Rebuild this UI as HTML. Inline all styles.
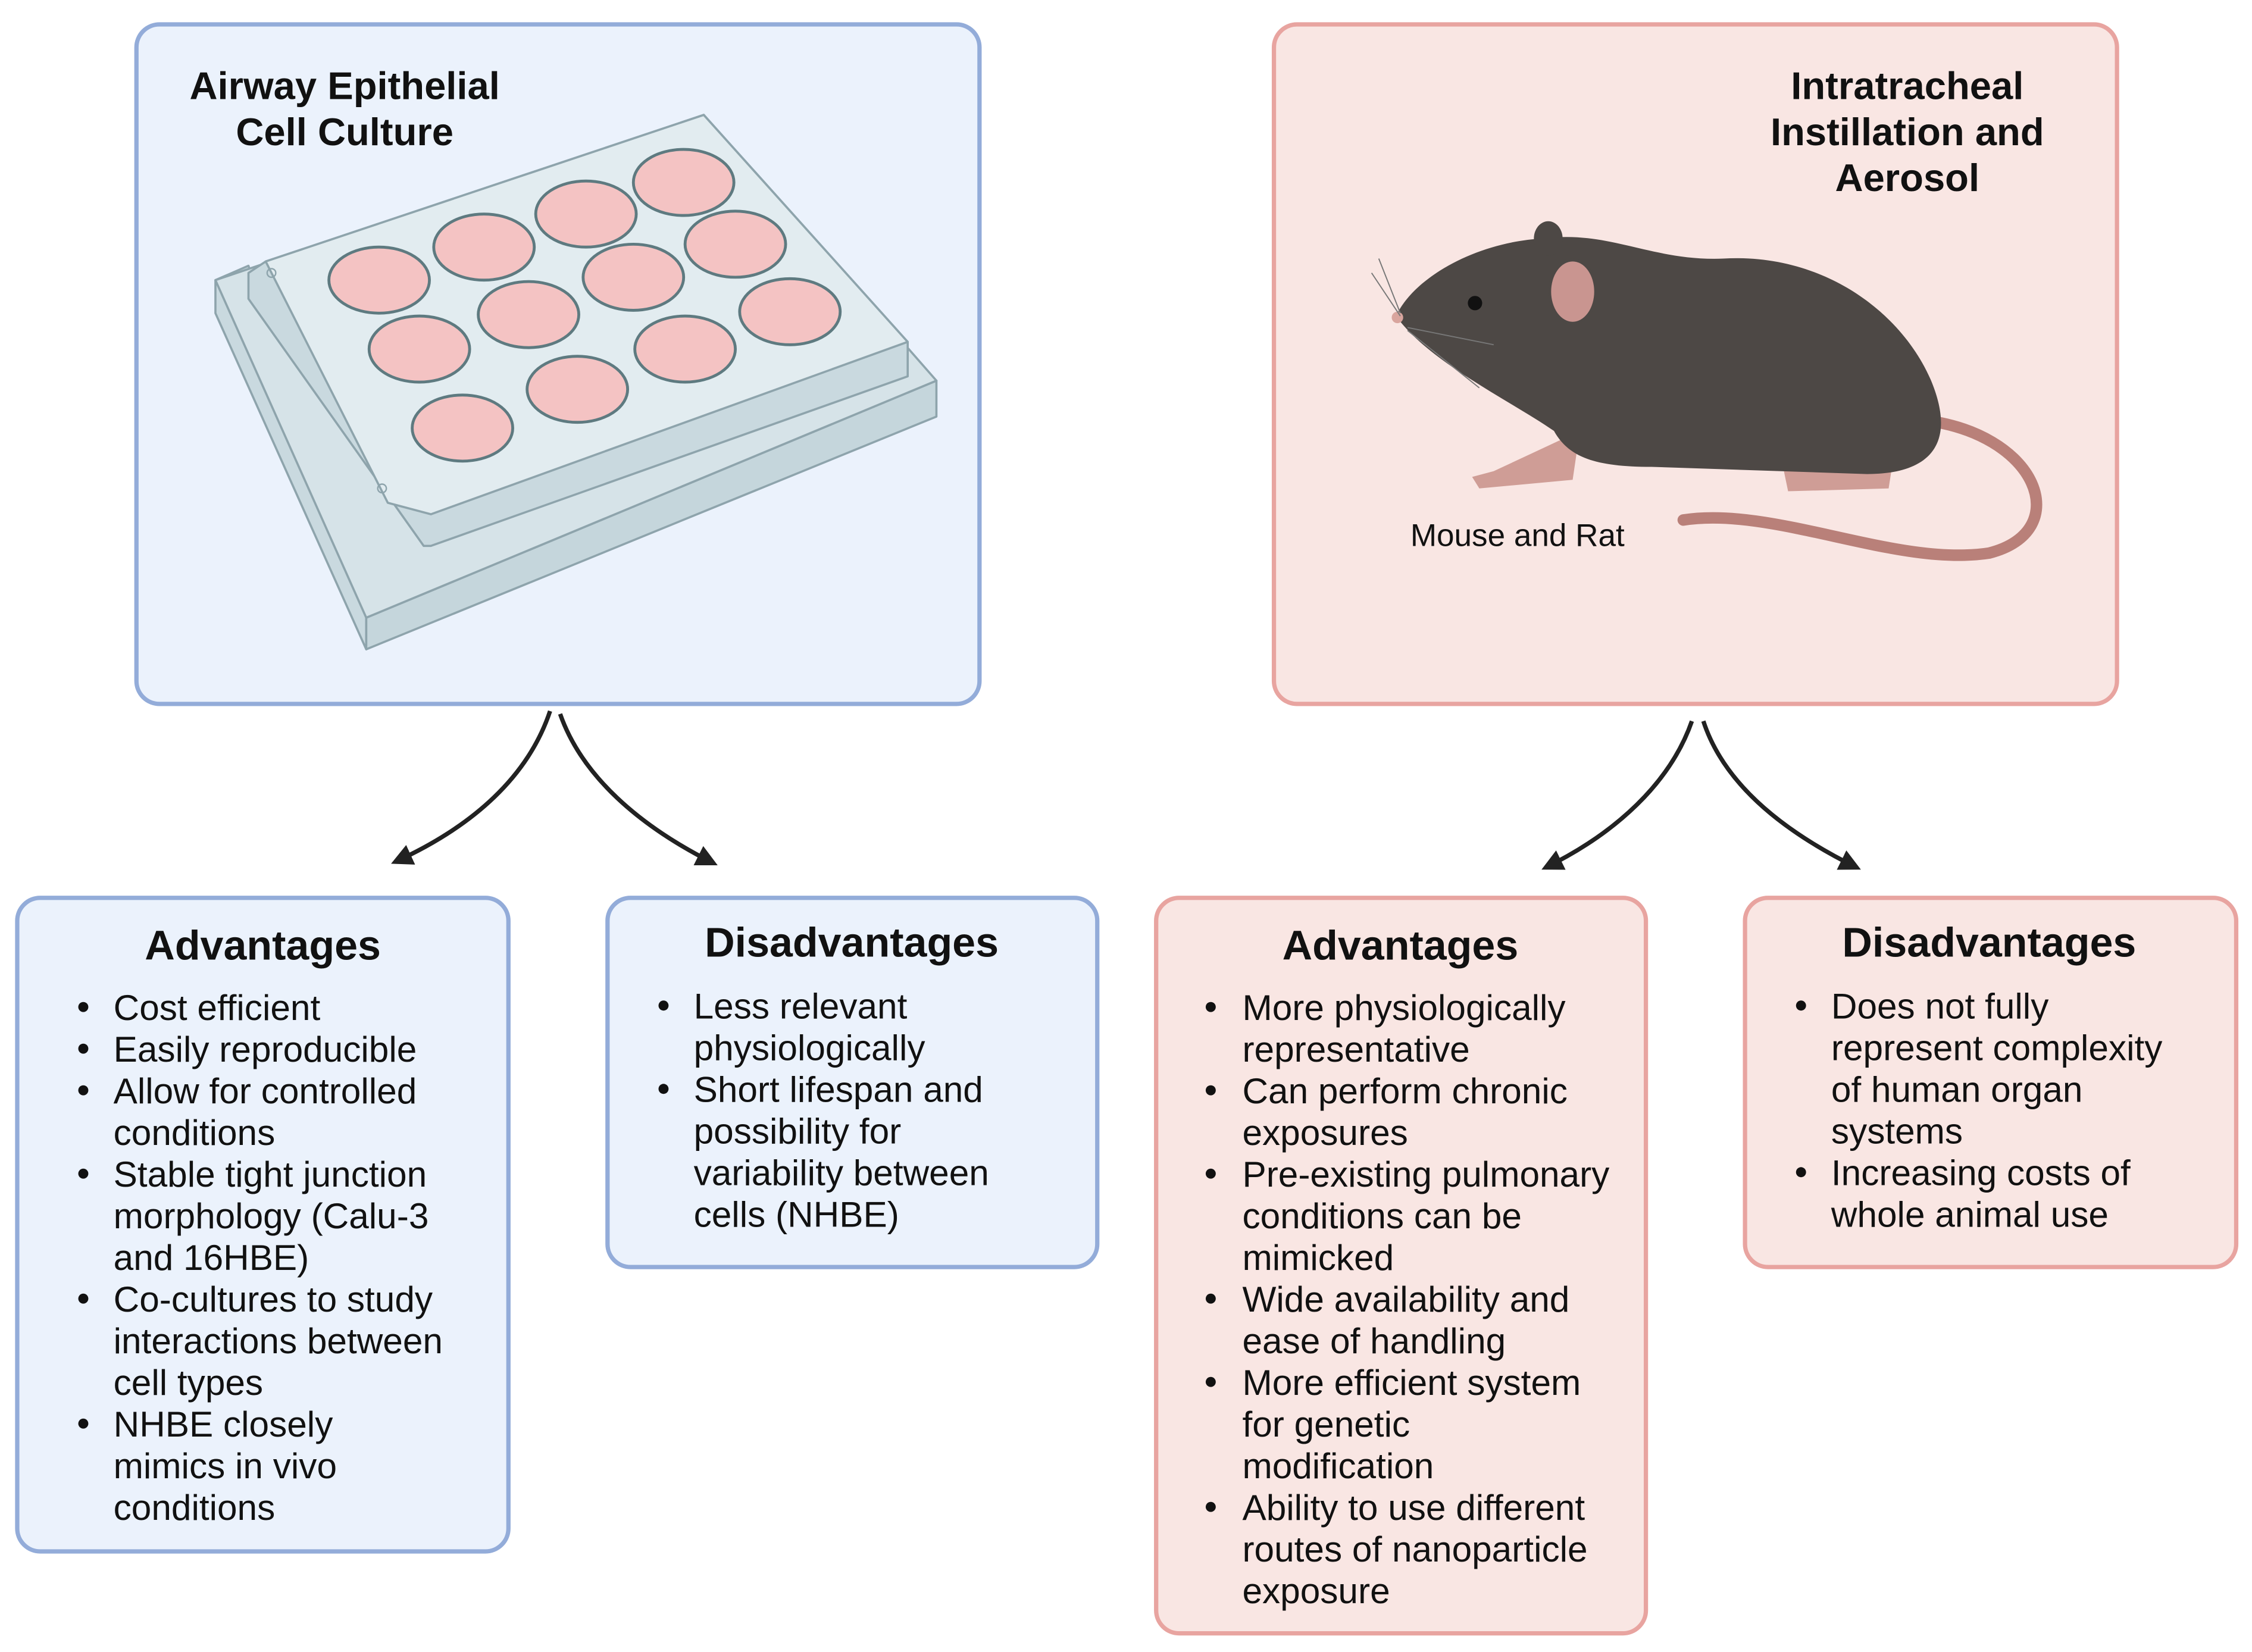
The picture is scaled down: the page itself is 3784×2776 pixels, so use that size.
<!DOCTYPE html>
<html><head><meta charset="utf-8"><style>
html,body{margin:0;padding:0;background:#fff;}
svg{display:block;}
text{font-family:"Liberation Sans",sans-serif;fill:#111;}
.t{font-weight:bold;font-size:27px;}
.h{font-weight:bold;font-size:29px;}
.b{font-size:25px;}
</style></head><body>
<svg width="3784" height="2776" viewBox="0 0 1568 1150" preserveAspectRatio="none" xmlns="http://www.w3.org/2000/svg">
<defs>
<marker id="ah" viewBox="0 0 10 10" refX="8" refY="5" markerWidth="5" markerHeight="5" orient="auto"><path d="M0,0 L10,5 L0,10 Z" fill="#222"/></marker>
</defs>
<rect x="95" y="17" width="587" height="473" rx="16" fill="#ebf2fc" stroke="#93acd9" stroke-width="3"/>
<rect x="887" y="17" width="587" height="473" rx="16" fill="#f9e6e3" stroke="#e8a4a0" stroke-width="3"/>
<text class="t" x="240" y="69" text-anchor="middle">Airway Epithelial</text>
<text class="t" x="240" y="101" text-anchor="middle">Cell Culture</text>
<text class="t" x="1328" y="69" text-anchor="middle">Intratracheal</text>
<text class="t" x="1328" y="101" text-anchor="middle">Instillation and</text>
<text class="t" x="1328" y="133" text-anchor="middle">Aerosol</text>

<g stroke="#8ea4ac" stroke-width="1.5" stroke-linejoin="round">
<polygon points="150,195 173,185 255,430 255,452 150,218" fill="#c9d9df"/>
<polygon points="255,430 652,265 652,290 255,452" fill="#c5d6dc"/>
<polygon points="150,195 490,80 652,265 255,430" fill="#d6e3e8"/>
<polygon points="173,190 185,182 490,80 632,238 632,262 300,380 295,380 173,208" fill="#c9d9df"/>
<polygon points="185,182 490,80 632,238 300,358 270,350" fill="#e2ecf0"/>
</g>
<g stroke="#5e7a80" stroke-width="2">
<g fill="#f4c3c3">
<ellipse cx="264" cy="195" rx="35" ry="23"/><ellipse cx="337" cy="172" rx="35" ry="23"/><ellipse cx="408" cy="149" rx="35" ry="23"/><ellipse cx="476" cy="127" rx="35" ry="23"/>
<ellipse cx="292" cy="243" rx="35" ry="23"/><ellipse cx="368" cy="219" rx="35" ry="23"/><ellipse cx="441" cy="193" rx="35" ry="23"/><ellipse cx="512" cy="170" rx="35" ry="23"/>
<ellipse cx="322" cy="298" rx="35" ry="23"/><ellipse cx="402" cy="271" rx="35" ry="23"/><ellipse cx="477" cy="243" rx="35" ry="23"/><ellipse cx="550" cy="217" rx="35" ry="23"/>
</g></g>
<circle cx="189" cy="190" r="3" fill="none" stroke="#8ea4ac"/>
<circle cx="266" cy="340" r="3" fill="none" stroke="#8ea4ac"/>

<path d="M1335,292 C1420,300 1445,370 1385,385 C1320,395 1235,352 1172,362" fill="none" stroke="#b98079" stroke-width="8" stroke-linecap="round"/>
<path d="M1040,328 L1025,332 L1030,340 L1095,334 L1100,300 Z" fill="#cf9d96"/>
<path d="M1240,318 L1245,342 L1315,340 L1320,308 Z" fill="#cf9d96"/>
<path d="M972,220 C985,192 1030,168 1075,166 C1120,160 1150,182 1200,180 C1270,176 1325,218 1345,266 C1362,308 1345,330 1300,330 L1150,325 C1110,325 1092,318 1082,300 C1050,278 995,252 972,220Z" fill="#4d4845"/>
<ellipse cx="1078" cy="166" rx="10" ry="12" fill="#4d4845"/>
<ellipse cx="1095" cy="203" rx="16" ry="22" fill="#c99590" stroke="#4d4845" stroke-width="2"/>
<circle cx="1027" cy="211" r="5" fill="#111"/>
<circle cx="973" cy="221" r="4" fill="#d9a59e"/>
<g stroke="#777" stroke-width="0.8" fill="none"><path d="M975,218 L960,180"/><path d="M975,220 L955,190"/><path d="M980,228 L1040,240"/><path d="M980,230 L1030,270"/></g>
<text x="982" y="380" style="font-size:22px">Mouse and Rat</text>

<g fill="none" stroke="#222" stroke-width="3" marker-end="url(#ah)">
<path d="M383,495 C368,540 330,575 275,600"/>
<path d="M390,497 C405,540 445,575 497,601"/>
<path d="M1178,502 C1163,545 1125,580 1076,604"/>
<path d="M1186,502 C1200,545 1240,578 1293,604"/>
</g>

<rect x="12" y="625" width="342" height="455" rx="16" fill="#ebf2fc" stroke="#93acd9" stroke-width="3"/>
<rect x="423" y="625" width="341" height="257" rx="16" fill="#ebf2fc" stroke="#93acd9" stroke-width="3"/>
<rect x="805" y="625" width="341" height="512" rx="16" fill="#f9e6e3" stroke="#e8a4a0" stroke-width="3"/>
<rect x="1215" y="625" width="342" height="257" rx="16" fill="#f9e6e3" stroke="#e8a4a0" stroke-width="3"/>

<text class="h" x="183" y="668" text-anchor="middle">Advantages</text>
<text class="h" x="593" y="666" text-anchor="middle">Disadvantages</text>
<text class="h" x="975" y="668" text-anchor="middle">Advantages</text>
<text class="h" x="1385" y="666" text-anchor="middle">Disadvantages</text>

<text class="b" x="79" y="710">Cost efficient</text>
<text class="b" x="79" y="739">Easily reproducible</text>
<text class="b" x="79" y="768">Allow for controlled</text>
<text class="b" x="79" y="797">conditions</text>
<text class="b" x="79" y="826">Stable tight junction</text>
<text class="b" x="79" y="855">morphology (Calu-3</text>
<text class="b" x="79" y="884">and 16HBE)</text>
<text class="b" x="79" y="913">Co-cultures to study</text>
<text class="b" x="79" y="942">interactions between</text>
<text class="b" x="79" y="971">cell types</text>
<text class="b" x="79" y="1000">NHBE closely</text>
<text class="b" x="79" y="1029">mimics in vivo</text>
<text class="b" x="79" y="1058">conditions</text>
<g fill="#111"><circle cx="58" cy="701" r="3.5"/><circle cx="58" cy="730" r="3.5"/><circle cx="58" cy="759" r="3.5"/><circle cx="58" cy="817" r="3.5"/><circle cx="58" cy="904" r="3.5"/><circle cx="58" cy="991" r="3.5"/></g>

<text class="b" x="483" y="709">Less relevant</text>
<text class="b" x="483" y="738">physiologically</text>
<text class="b" x="483" y="767">Short lifespan and</text>
<text class="b" x="483" y="796">possibility for</text>
<text class="b" x="483" y="825">variability between</text>
<text class="b" x="483" y="854">cells (NHBE)</text>
<g fill="#111"><circle cx="462" cy="700" r="3.5"/><circle cx="462" cy="758" r="3.5"/></g>

<text class="b" x="865" y="710">More physiologically</text>
<text class="b" x="865" y="739">representative</text>
<text class="b" x="865" y="768">Can perform chronic</text>
<text class="b" x="865" y="797">exposures</text>
<text class="b" x="865" y="826">Pre-existing pulmonary</text>
<text class="b" x="865" y="855">conditions can be</text>
<text class="b" x="865" y="884">mimicked</text>
<text class="b" x="865" y="913">Wide availability and</text>
<text class="b" x="865" y="942">ease of handling</text>
<text class="b" x="865" y="971">More efficient system</text>
<text class="b" x="865" y="1000">for genetic</text>
<text class="b" x="865" y="1029">modification</text>
<text class="b" x="865" y="1058">Ability to use different</text>
<text class="b" x="865" y="1087">routes of nanoparticle</text>
<text class="b" x="865" y="1116">exposure</text>
<g fill="#111"><circle cx="843" cy="701" r="3.5"/><circle cx="843" cy="759" r="3.5"/><circle cx="843" cy="817" r="3.5"/><circle cx="843" cy="904" r="3.5"/><circle cx="843" cy="962" r="3.5"/><circle cx="843" cy="1049" r="3.5"/></g>

<text class="b" x="1275" y="709">Does not fully</text>
<text class="b" x="1275" y="738">represent complexity</text>
<text class="b" x="1275" y="767">of human organ</text>
<text class="b" x="1275" y="796">systems</text>
<text class="b" x="1275" y="825">Increasing costs of</text>
<text class="b" x="1275" y="854">whole animal use</text>
<g fill="#111"><circle cx="1254" cy="700" r="3.5"/><circle cx="1254" cy="816" r="3.5"/></g>
</svg>
</body></html>
